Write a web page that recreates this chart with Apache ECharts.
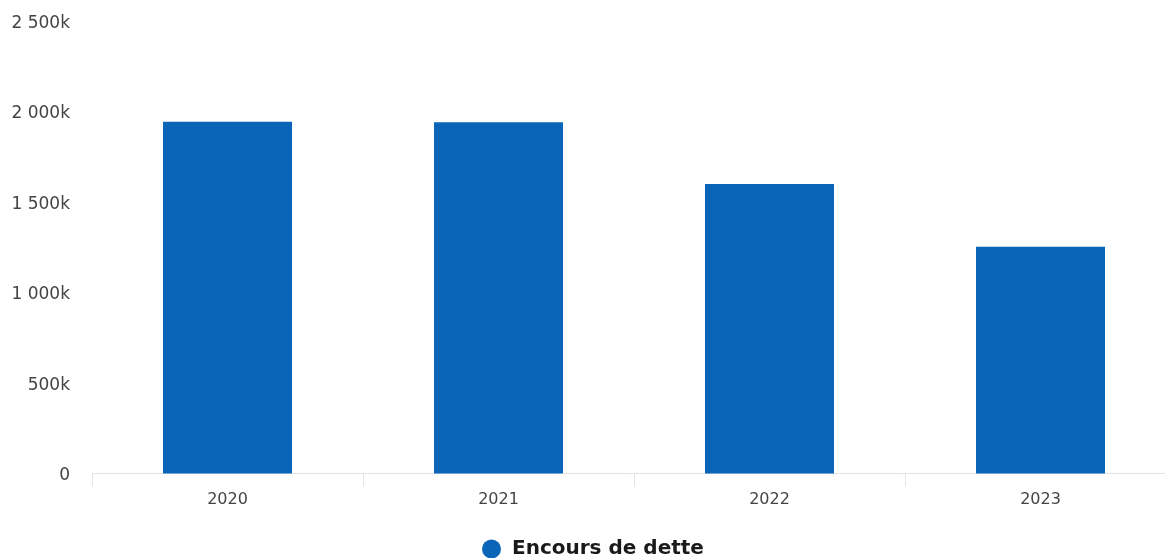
<!DOCTYPE html>
<html>
<head>
<meta charset="utf-8">
<script src="https://cdn.jsdelivr.net/npm/echarts@6/dist/echarts.min.js"></script>
<style>
  html, body { margin: 0; padding: 0; background: #fff; }
  #chart { width: 1165px; height: 558px; }
</style>
</head>
<body>
<div id="chart"></div>
<script>
// Outstanding debt by year
const years = ['2020', '2021', '2022', '2023'];
const encoursDette = [1944000, 1940000, 1599000, 1253000];
const seriesName = 'Encours de dette';

// Thousands with a space as group separator, suffixed with "k"
function formatK(v) {
  if (v === 0) return '{v|0}';
  const k = Math.round(v / 1000);
  return '{v|' + String(k).replace(/\B(?=(\d{3})+(?!\d))/g, ' ') + 'k}';
}

const chart = echarts.init(document.getElementById('chart'));
chart.setOption({
  animation: false,
  backgroundColor: '#ffffff',
  // the plot runs slightly past the right edge of the canvas
  grid: { left: 92, width: 1084, top: 21, bottom: 84.5, containLabel: false, outerBoundsMode: 'none' },
  legend: {
    data: [seriesName],
    left: 477,
    top: 534,
    icon: 'circle',
    itemWidth: 19,
    itemHeight: 19,
    itemGap: 10,
    textStyle: { fontFamily: 'DejaVu Sans', fontWeight: 'bold', fontSize: 20, color: '#1a1a1a', padding: [0, 0, 0, 6] }
  },
  xAxis: {
    type: 'category',
    data: years,
    axisLine: { lineStyle: { color: '#e3e3e3', width: 1 } },
    axisTick: { show: true, length: 13, lineStyle: { color: '#e3e3e3' } },
    axisLabel: { margin: 18, fontFamily: 'DejaVu Sans', fontSize: 16, color: '#444' }
  },
  yAxis: {
    type: 'value',
    min: 0,
    max: 2500000,
    interval: 500000,
    splitLine: { show: false },
    axisLine: { show: false },
    axisTick: { show: false },
    axisLabel: {
      margin: 22,
      formatter: formatK,
      rich: { v: { fontFamily: 'DejaVu Sans', fontSize: 17, color: '#444', padding: [5, 0, 0, 0] } }
    }
  },
  series: [{
    name: seriesName,
    type: 'bar',
    data: encoursDette,
    barWidth: 129,
    itemStyle: { color: '#0a64b7' }
  }]
});
</script>
</body>
</html>
